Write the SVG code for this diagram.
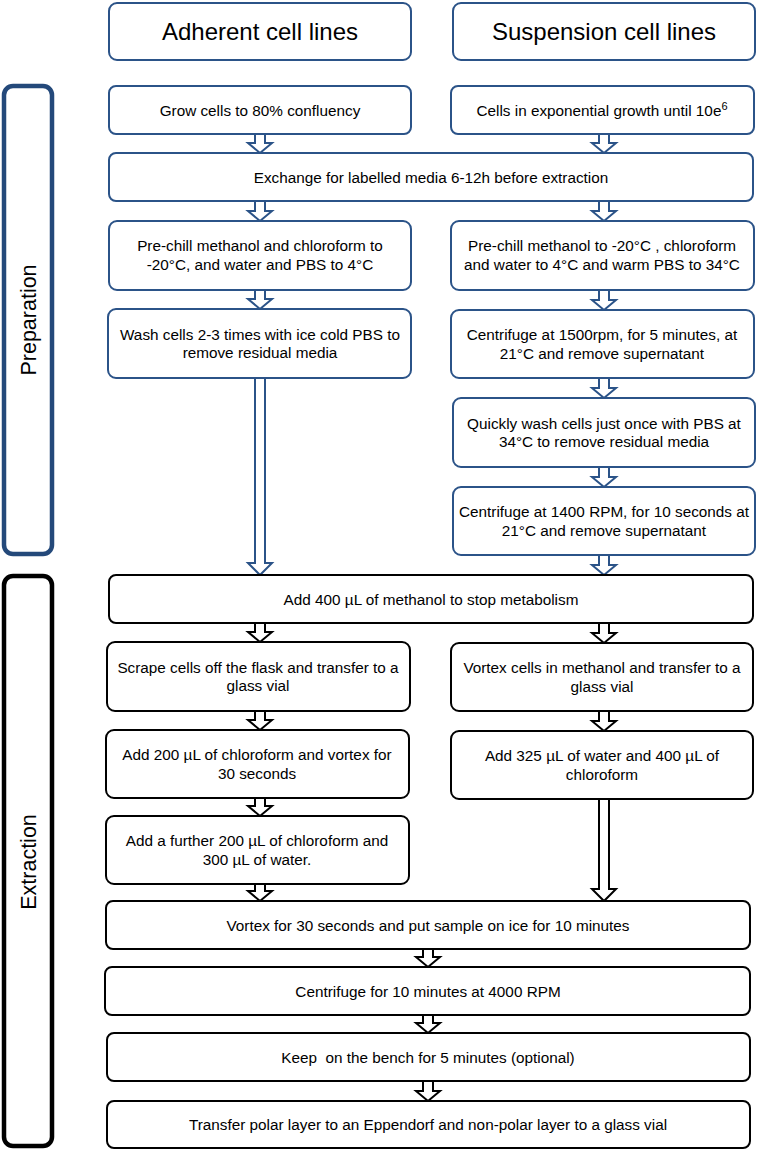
<svg xmlns="http://www.w3.org/2000/svg" width="762" height="1151" viewBox="0 0 762 1151">
<style>
  .bb { fill: #ffffff; stroke: #2B5388; stroke-width: 2; }
  .kb { fill: #ffffff; stroke: #000000; stroke-width: 2; }
  .side-b { fill: #ffffff; stroke: #24497A; stroke-width: 4.5; }
  .side-k { fill: #ffffff; stroke: #000000; stroke-width: 4.5; }
  .ab { fill: #ffffff; stroke: #2B5388; stroke-width: 2; stroke-linejoin: miter; }
  .ak { fill: #ffffff; stroke: #000000; stroke-width: 2; stroke-linejoin: miter; }
  text { font-family: "Liberation Sans", Arial, sans-serif; fill: #000000; text-anchor: middle; }
  .t { font-size: 15.3px; }
  .h { font-size: 24px; }
  .s { font-size: 21.5px; }
</style>
<rect width="762" height="1151" fill="#ffffff"/>

<g id="connectors">
  <!-- blue arrows -->
  <path class="ab" d="M255,134 H265 V143 H272 L260,153 L248,143 H255 Z"/>
  <path class="ab" d="M599,134 H609 V143 H616 L604,153 L592,143 H599 Z"/>
  <path class="ab" d="M255,201 H265 V211 H272 L260,221 L248,211 H255 Z"/>
  <path class="ab" d="M599,201 H609 V211 H616 L604,221 L592,211 H599 Z"/>
  <path class="ab" d="M255,290 H265 V299 H272 L260,309 L248,299 H255 Z"/>
  <path class="ab" d="M599,290 H609 V300 H616 L604,310 L592,300 H599 Z"/>
  <path class="ab" d="M599,378 H609 V388 H616 L604,398 L592,388 H599 Z"/>
  <path class="ab" d="M599,467 H609 V477 H616 L604,487 L592,477 H599 Z"/>
  <path class="ab" d="M255,378 H265 V563 H272 L260,575 L248,563 H255 Z"/>
  <path class="ab" d="M599,555 H609 V565 H616 L604,575 L592,565 H599 Z"/>
  <!-- black arrows -->
  <path class="ak" d="M255,623 H265 V632 H272 L260,642 L248,632 H255 Z"/>
  <path class="ak" d="M599,623 H609 V633 H616 L604,643 L592,633 H599 Z"/>
  <path class="ak" d="M255,711 H265 V720 H272 L260,730 L248,720 H255 Z"/>
  <path class="ak" d="M599,711 H609 V721 H616 L604,731 L592,721 H599 Z"/>
  <path class="ak" d="M255,798 H265 V806 H272 L260,816 L248,806 H255 Z"/>
  <path class="ak" d="M255,884 H265 V891 H272 L260,901 L248,891 H255 Z"/>
  <path class="ak" d="M599,799 H609 V889 H616 L604,901 L592,889 H599 Z"/>
  <path class="ak" d="M423,949 H433 V957 H440 L428,967 L416,957 H423 Z"/>
  <path class="ak" d="M423,1015 H433 V1023 H440 L428,1033 L416,1023 H423 Z"/>
  <path class="ak" d="M423,1081 H433 V1091 H440 L428,1101 L416,1091 H423 Z"/>
</g>

<g id="side-preparation">
  <rect class="side-b" x="4" y="86" width="48" height="468" rx="9"/>
  <text class="s" transform="translate(36,320) rotate(-90)">Preparation</text>
</g>
<g id="side-extraction">
  <rect class="side-k" x="4" y="576" width="48" height="570" rx="9"/>
  <text class="s" transform="translate(36,862) rotate(-90)">Extraction</text>
</g>

<g id="hdr-adherent">
  <rect class="bb" x="109" y="3" width="302" height="57" rx="8"/>
  <text class="h" x="260" y="40">Adherent cell lines</text>
</g>
<g id="hdr-suspension">
  <rect class="bb" x="453" y="3" width="302" height="57" rx="8"/>
  <text class="h" x="604" y="40">Suspension cell lines</text>
</g>

<g id="grow">
  <rect class="bb" x="109" y="86" width="302" height="48" rx="7"/>
  <text class="t" x="260" y="115.5">Grow cells to 80% confluency</text>
</g>
<g id="exponential">
  <rect class="bb" x="451" y="86" width="303" height="48" rx="7"/>
  <text class="t" x="602" y="115.5">Cells in exponential growth until 10e<tspan font-size="11" dy="-6">6</tspan></text>
</g>
<g id="exchange">
  <rect class="bb" x="109" y="153" width="644" height="48" rx="7"/>
  <text class="t" x="431" y="182.5">Exchange for labelled media 6-12h before extraction</text>
</g>
<g id="prechill-adherent">
  <rect class="bb" x="109" y="221" width="302" height="69" rx="8"/>
  <text class="t" x="260" y="251">Pre-chill methanol and chloroform to</text>
  <text class="t" x="260" y="269.5">-20°C, and water and PBS to 4°C</text>
</g>
<g id="prechill-suspension">
  <rect class="bb" x="451" y="221" width="303" height="69" rx="8"/>
  <text class="t" x="602" y="251">Pre-chill methanol to -20°C , chloroform</text>
  <text class="t" x="602" y="269.5">and water to 4°C and warm PBS to 34°C</text>
</g>
<g id="wash-adherent">
  <rect class="bb" x="108" y="309" width="303" height="69" rx="8"/>
  <text class="t" x="260" y="339.5">Wash cells 2-3 times with ice cold PBS to</text>
  <text class="t" x="260" y="358">remove residual media</text>
</g>
<g id="centrifuge-1500">
  <rect class="bb" x="451" y="310" width="303" height="68" rx="8"/>
  <text class="t" x="602" y="340">Centrifuge at 1500rpm, for 5 minutes, at</text>
  <text class="t" x="602" y="358.5">21°C and remove supernatant</text>
</g>
<g id="quick-wash">
  <rect class="bb" x="453" y="398" width="302" height="69" rx="8"/>
  <text class="t" x="604" y="428.5">Quickly wash cells just once with PBS at</text>
  <text class="t" x="604" y="447">34°C to remove residual media</text>
</g>
<g id="centrifuge-1400">
  <rect class="bb" x="453" y="487" width="302" height="68" rx="8"/>
  <text class="t" x="604" y="517">Centrifuge at 1400 RPM, for 10 seconds at</text>
  <text class="t" x="604" y="535.5">21°C and remove supernatant</text>
</g>

<g id="add-methanol">
  <rect class="kb" x="109" y="575" width="644" height="48" rx="7"/>
  <text class="t" x="431" y="604.5">Add 400 µL of methanol to stop metabolism</text>
</g>
<g id="scrape">
  <rect class="kb" x="107" y="642" width="303" height="69" rx="8"/>
  <text class="t" x="258" y="672.5">Scrape cells off the flask and transfer to a</text>
  <text class="t" x="258" y="691">glass vial</text>
</g>
<g id="vortex-cells">
  <rect class="kb" x="451" y="643" width="302" height="68" rx="8"/>
  <text class="t" x="602" y="673">Vortex cells in methanol and transfer to a</text>
  <text class="t" x="602" y="691.5">glass vial</text>
</g>
<g id="add-200">
  <rect class="kb" x="106" y="730" width="303" height="68" rx="8"/>
  <text class="t" x="257" y="760">Add 200 µL of chloroform and vortex for</text>
  <text class="t" x="257" y="778.5">30 seconds</text>
</g>
<g id="add-325">
  <rect class="kb" x="451" y="731" width="302" height="68" rx="8"/>
  <text class="t" x="602" y="761">Add 325 µL of water and 400 µL of</text>
  <text class="t" x="602" y="779.5">chloroform</text>
</g>
<g id="add-further">
  <rect class="kb" x="106" y="816" width="303" height="68" rx="8"/>
  <text class="t" x="257" y="846">Add a further 200 µL of chloroform and</text>
  <text class="t" x="257" y="864.5">300 µL of water.</text>
</g>
<g id="vortex-30">
  <rect class="kb" x="106" y="901" width="644" height="48" rx="7"/>
  <text class="t" x="428" y="930.5">Vortex for 30 seconds and put sample on ice for 10 minutes</text>
</g>
<g id="centrifuge-4000">
  <rect class="kb" x="105" y="967" width="645" height="48" rx="7"/>
  <text class="t" x="428" y="996.5">Centrifuge for 10 minutes at 4000 RPM</text>
</g>
<g id="keep-bench">
  <rect class="kb" x="107" y="1033" width="643" height="48" rx="7"/>
  <text class="t" x="428" y="1062.5" xml:space="preserve">Keep  on the bench for 5 minutes (optional)</text>
</g>
<g id="transfer">
  <rect class="kb" x="107" y="1101" width="643" height="47" rx="7"/>
  <text class="t" x="428" y="1130">Transfer polar layer to an Eppendorf and non-polar layer to a glass vial</text>
</g>
</svg>
